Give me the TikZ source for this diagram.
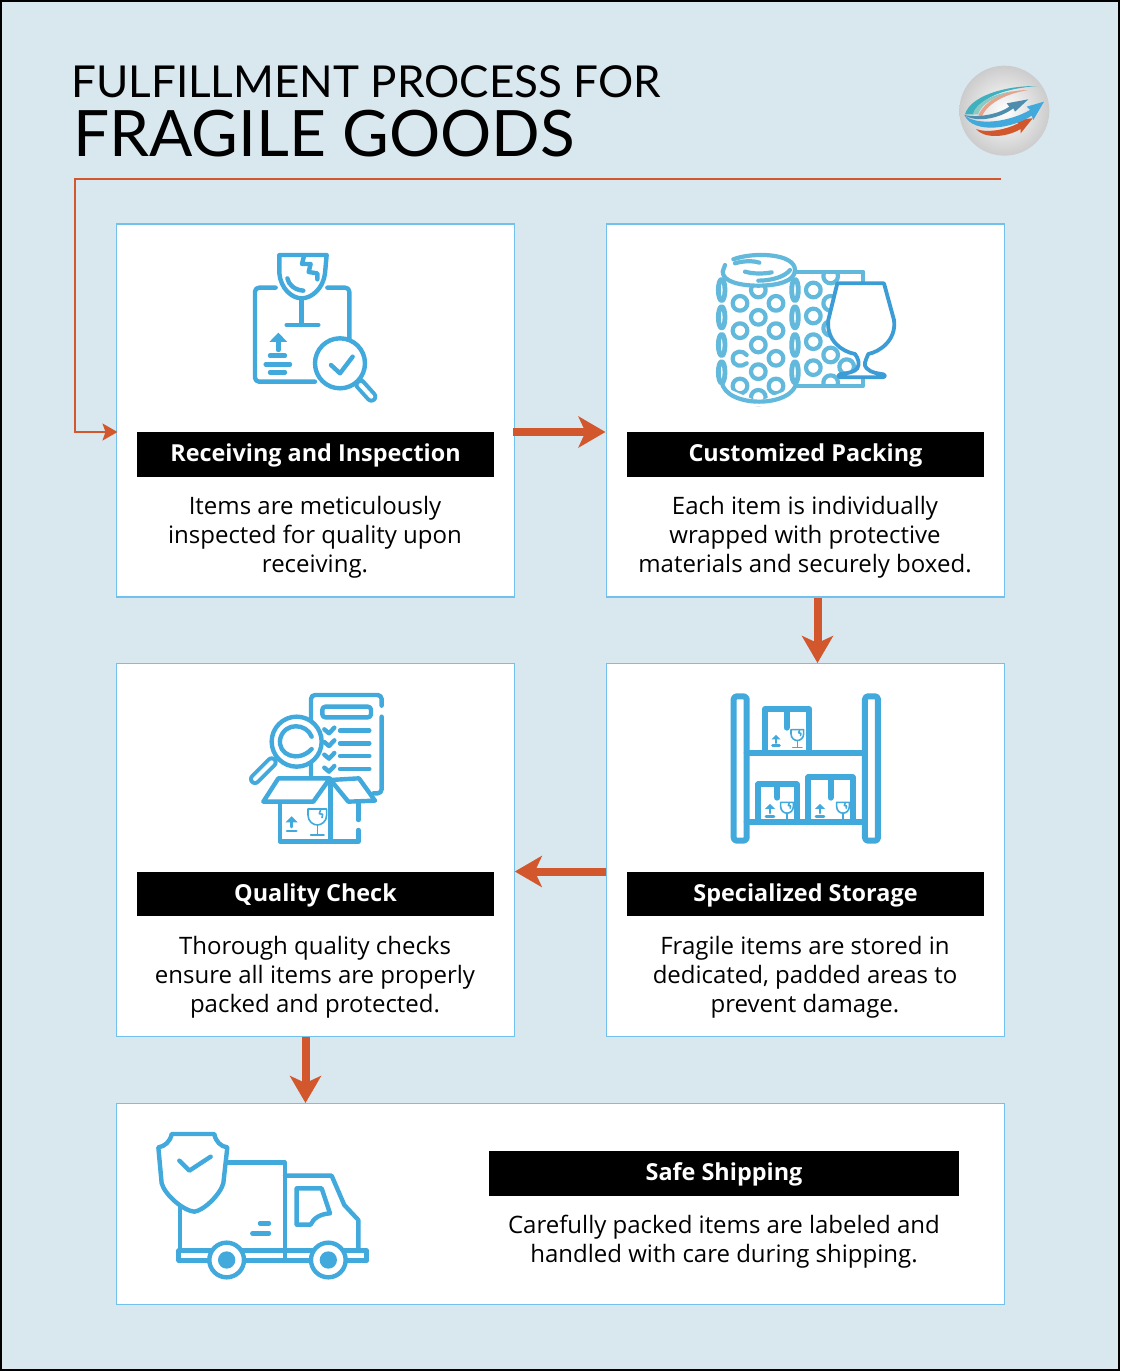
\documentclass[tikz,border=0pt]{standalone}
\usepackage{fontspec}
\setmainfont{Open Sans}
\newfontfamily\titlefont{Lato}
\usetikzlibrary{arrows.meta}
\definecolor{pagebg}{HTML}{D9E8EF}
\definecolor{cardline}{HTML}{72C1EC}
\definecolor{flowred}{HTML}{D2572C}
\definecolor{iconblue}{HTML}{41A9DC}
\definecolor{wrapblue}{HTML}{62B9DB}
\definecolor{glassblue}{HTML}{3C9CD6}
\definecolor{logoteal}{HTML}{3FB0BE}
\definecolor{logomint}{HTML}{8CCBC4}
\definecolor{logosteel}{HTML}{4D8DAE}
\tikzset{
  card/.style={draw=cardline, line width=1.3pt, fill=white, anchor=north west, minimum width=398pt, minimum height=373pt},
  headbar/.style={fill=black, text=white, anchor=north, minimum height=44.5pt, minimum width=357pt, inner sep=0pt, text height=19.5pt, text depth=4.5pt, font=\fontsize{23.4}{27}\selectfont\bfseries},
  bodytext/.style={align=center, inner sep=0pt, font=\fontsize{24}{29}\selectfont},
  flowarrow/.style={draw=flowred, line width=8pt, -{Stealth[length=27pt,width=31pt,inset=7pt]}},
  loopline/.style={draw=flowred, line width=1.8pt, -{Stealth[length=15pt,width=17pt,inset=3pt]}},
  iconline/.style={draw=iconblue, line width=4.4pt, line cap=round, line join=round},
  wrapline/.style={draw=wrapblue, line width=4.2pt, line cap=round, line join=round},
  markline/.style={draw=iconblue, line width=1.6pt, line cap=round, line join=round},
  iconat/.style 2 args={shift={(#1,#2)}, x=.3333pt, y=-.3333pt}
}
% little marks printed on the boxes
\newcommand{\glassmark}[3]{
  \begin{scope}[shift={(#1,#2)}, scale=#3]
    \draw[markline] (-28,0) -- (28,0) -- (28,18) .. controls (28,38) and (12,48) .. (0,48) .. controls (-12,48) and (-28,38) .. (-28,18) -- cycle;
    \draw[markline] (0,48) -- (0,78) (-20,78) -- (20,78);
    \draw[markline] (10,2) -- (6,14) -- (16,16) -- (14,26);
  \end{scope}}
\newcommand{\upmark}[3]{
  \begin{scope}[shift={(#1,#2)}, scale=#3]
    \fill[iconblue] (-18,0) -- (0,-18) -- (18,0) -- cycle;
    \draw[iconline, line width=2.8pt] (0,0) -- (0,14) (-14,26) -- (14,26);
  \end{scope}}
\begin{document}
\begin{tikzpicture}[x=1pt, y=-1pt]
  \useasboundingbox (0,0) rectangle (1120,1371);
  \draw[fill=pagebg, draw=black, line width=2pt] (1,1) rectangle (1119,1370);

  % title
  \node[anchor=base west, inner sep=0pt, font=\titlefont\fontsize{44}{50}\selectfont] (titletop) at (71,97) {FULFILLMENT PROCESS FOR};
  \node[anchor=base west, inner sep=0pt, font=\titlefont\fontsize{64}{70}\selectfont] (titlemain) at (73,156) {FRAGILE GOODS};

  % logo
  \begin{scope}[iconat={950}{55}]
    \shade[inner color=white, outer color=black!20] (163,167) circle (135);
    \fill[flowred!55] (85,180) .. controls (110,130) and (170,105) .. (235,105) .. controls (175,115) and (115,140) .. (95,185) -- cycle;
    \fill[logoteal] (45,178) .. controls (60,125) and (160,92) .. (262,93) .. controls (170,100) and (90,125) .. (72,178) -- cycle;
    \fill[logomint] (68,178) .. controls (80,140) and (130,118) .. (190,108) .. controls (135,125) and (95,145) .. (84,178) -- cycle;
    \fill[flowred] (78,222) .. controls (110,235) and (165,225) .. (205,205) -- (195,195) -- (248,190) -- (212,235) -- (212,222) .. controls (165,250) and (100,250) .. (78,222) -- cycle;
    \fill[iconblue] (43,180) .. controls (80,215) and (180,200) .. (240,165) -- (230,155) -- (282,140) -- (250,195) -- (245,182) .. controls (190,220) and (70,240) .. (43,180) -- cycle;
    \fill[logosteel] (43,180) .. controls (90,190) and (150,175) .. (178,155) -- (170,145) -- (235,133) -- (195,170) -- (190,160) .. controls (150,190) and (80,205) .. (43,180) -- cycle;
  \end{scope}

  % cards
  \node[card] (recv) at (115.5,223.4) {};
  \node[card] (pack) at (605.5,223.4) {};
  \node[card] (check) at (115.5,663) {};
  \node[card] (store) at (605.5,663) {};
  \node[card, minimum width=888pt, minimum height=201pt] (ship) at (115.5,1103) {};

  % headers
  \node[headbar] (recvhead) at (315.5,432) {Receiving and Inspection};
  \node[headbar] (packhead) at (805.5,432) {Customized Packing};
  \node[headbar] (checkhead) at (315.5,871.5) {Quality Check};
  \node[headbar] (storehead) at (805.5,871.5) {Specialized Storage};
  \node[headbar, minimum width=470pt] (shiphead) at (724,1151) {Safe Shipping};

  % texts
  \node[bodytext] (recvtext) at (315,537) {Items are meticulously\\inspected for quality upon\\receiving.};
  \node[bodytext] (packtext) at (805,537) {Each item is individually\\wrapped with protective\\materials and securely boxed.};
  \node[bodytext] (checktext) at (315,977) {Thorough quality checks\\ensure all items are properly\\packed and protected.};
  \node[bodytext] (storetext) at (805,977) {Fragile items are stored in\\dedicated, padded areas to\\prevent damage.};
  \node[bodytext] (shiptext) at (724,1242) {Carefully packed items are labeled and\\handled with care during shipping.};

  % connectors
  \coordinate (loopstart) at (1001,179);
  \coordinate (loopleft) at (75,179);
  \coordinate (packdrop) at (817.5,630);
  \coordinate (checkdrop) at (305.5,1070);
  \draw[loopline] (loopstart) -- (loopleft) |- ([xshift=2pt]recv.west |- recvhead.north);
  \draw[flowarrow] ([xshift=-2pt]recv.east |- recvhead.north) -- (pack.west |- recvhead.north);
  \draw[flowarrow] (packdrop |- pack.south) -- (packdrop |- store.north);
  \draw[flowarrow] (store.west |- storehead.north) -- (check.east |- storehead.north);
  \draw[flowarrow] (checkdrop |- check.south) -- (checkdrop |- ship.north);

  % receiving icon
  \begin{scope}[iconat={230}{240}]
    \draw[iconline, rounded corners=4pt] (137,143) -- (75,143) -- (75,425) -- (255,425);
    \draw[iconline, rounded corners=4pt] (292,143) -- (358,143) -- (358,300);
    \draw[iconline] (148,45) -- (290,45) -- (285,100) .. controls (280,145) and (245,175) .. (215,175) .. controls (185,175) and (152,145) .. (148,100) -- cycle;
    \draw[iconline] (215,175) -- (215,255) (170,255) -- (265,255);
    \draw[iconline] (222,48) -- (216,72) -- (242,72) -- (236,96) -- (262,100) -- (262,118);
    \draw[iconline] (172,115) .. controls (176,135) and (195,150) .. (220,152);
    \fill[iconblue] (118,306) -- (145,278) -- (172,306) -- cycle;
    \draw[iconline] (145,300) -- (145,330);
    \draw[iconline] (120,347) -- (165,347) (107,373) -- (180,373) (120,397) -- (165,397);
    \draw[iconline, line width=12pt] (390,432) -- (424,470);
    \draw[draw=white, line width=4pt, line cap=round] (392,435) -- (424,470);
    \draw[iconline, fill=white] (330,370) circle (75);
    \draw[iconline] (303,375) -- (330,400) -- (368,350);
  \end{scope}

  % packing icon
  \begin{scope}[iconat={700}{240}]
    \foreach \cx/\cy in {340/150, 340/228, 340/305, 340/383, 392/108, 392/190, 392/265, 392/345, 440/380, 392/428}
      \draw[wrapline] (\cx,\cy) circle (22);
    \fill[white] (285,40) rectangle (500,93);
    \fill[white] (285,439) rectangle (500,480);
    \draw[wrapline] (290,95) -- (490,95) -- (490,125) (290,437) -- (490,437) -- (490,415);
    \fill[white] (65,100) rectangle (288,440);
    \foreach \cx/\cy in {120/190, 228/190, 175/232, 120/272, 228/272, 175/315, 228/355, 175/395, 120/438, 228/438, 175/150, 175/472}
      \draw[wrapline] (\cx,\cy) circle (22);
    \draw[wrapline] (140,345) .. controls (130,330) and (100,330) .. (98,355) .. controls (98,380) and (125,382) .. (140,370);
    \foreach \cx in {65,285}
      \foreach \cy in {150,232,315,397}
        \draw[wrapline, line width=4.8pt] (\cx,\cy) ellipse (10 and 32);
    \fill[white] (175,485) -- (70,440) -- (60,500) -- (290,500) -- (290,440) -- cycle;
    \draw[wrapline] (65,425) .. controls (75,505) and (280,505) .. (290,425);
    \fill[white] (70,90) .. controls (70,30) and (285,30) .. (285,90) .. controls (285,150) and (70,150) .. (70,90) -- cycle;
    \draw[wrapline] (100,58) .. controls (160,35) and (285,40) .. (285,90) .. controls (285,125) and (230,137) .. (175,137) .. controls (120,137) and (68,125) .. (68,95) -- (75,75);
    \draw[wrapline] (105,70) .. controls (130,62) and (160,62) .. (178,68);
    \draw[wrapline] (135,95) .. controls (160,102) and (190,102) .. (215,97);
    \draw[wrapline] (175,122) .. controls (215,122) and (255,110) .. (270,90);
    \draw[draw=glassblue, line width=3.8pt, line join=round, fill=white] (412,130) -- (552,130) -- (582,240) .. controls (590,300) and (540,335) .. (505,342) .. controls (495,365) and (490,375) .. (500,385) .. controls (515,400) and (535,400) .. (550,403) .. controls (558,408) and (555,412) .. (548,412) -- (425,412) .. controls (415,412) and (412,406) .. (422,402) .. controls (445,400) and (465,395) .. (472,385) .. controls (480,372) and (475,355) .. (465,342) .. controls (425,335) and (378,300) .. (385,240) -- cycle;
  \end{scope}

  % quality icon
  \begin{scope}[iconat={235}{685}]
    \draw[iconline, rounded corners=4pt] (228,270) -- (228,30) -- (440,30) -- (440,62);
    \draw[iconline, rounded corners=4pt] (440,95) -- (440,325) -- (415,325);
    \draw[iconline, rounded corners=3pt] (262,65) rectangle (408,97);
    \foreach \ty in {137,175,213,252} {
      \draw[iconline] (268,\ty-4) -- (282,\ty+8) -- (298,\ty-9);
      \draw[iconline] (315,\ty) -- (403,\ty);
    }
    \draw[iconline, line width=12pt] (110,232) -- (60,282);
    \draw[draw=white, line width=4pt, line cap=round] (110,232) -- (60,282);
    \draw[iconline, fill=white] (185,170) circle (75);
    \draw[iconline] (230,155) .. controls (215,115) and (150,110) .. (136,160) .. controls (125,210) and (190,235) .. (230,192);
    \draw[iconline, fill=white] (130,280) -- (285,280) -- (235,350) -- (85,350) -- cycle;
    \draw[iconline, fill=white] (287,285) -- (372,280) -- (420,347) -- (340,350) -- cycle;
    \draw[iconline] (135,352) -- (135,470) -- (370,470) -- (370,435) (370,405) -- (370,352) (287,285) -- (287,470);
    \upmark{170}{412}{1}
    \glassmark{247}{372}{1}
  \end{scope}

  % storage icon
  \begin{scope}[iconat={720}{685}]
    \draw[iconline, line width=6pt, rounded corners=3pt] (41,34) rectangle (80,467);
    \draw[iconline, line width=6pt, rounded corners=3pt] (435,34) rectangle (474,467);
    \draw[iconline, line width=6pt] (80,203) -- (435,203) (80,410) -- (435,410);
    \draw[iconline, line width=6pt] (135,200) -- (135,72) -- (268,72) -- (268,200) (200,72) -- (200,128);
    \draw[iconline, line width=6pt] (115,405) -- (115,298) -- (230,298) -- (230,405) (172,298) -- (172,338);
    \draw[iconline, line width=6pt] (265,405) -- (265,277) -- (398,277) -- (398,405) (332,277) -- (332,338);
    \upmark{168}{163}{.75}
    \glassmark{232}{134}{.68}
    \upmark{150}{372}{.85}
    \glassmark{201}{352}{.68}
    \upmark{300}{372}{.85}
    \glassmark{369}{352}{.68}
  \end{scope}

  % shipping icon
  \begin{scope}[iconat={145}{1120}]
    \draw[iconline] (245,128) -- (420,128) -- (420,390);
    \draw[iconline] (105,262) -- (105,390);
    \draw[iconline] (420,167) -- (560,167) -- (598,255) -- (640,300) -- (640,390);
    \draw[iconline] (455,205) -- (530,205) -- (555,280) .. controls (525,282) and (505,295) .. (497,314) -- (455,314) -- cycle;
    \draw[iconline] (345,310) -- (372,310) (322,340) -- (372,340);
    \draw[iconline, line width=5pt] (102,392) -- (665,392) -- (665,422) -- (102,422) -- cycle;
    \draw[iconline] (420,390) -- (420,422);
    \foreach \wx in {245,550} {
      \draw[iconline, fill=white] (\wx,420) circle (52);
      \fill[iconblue] (\wx,420) circle (26);
    }
    \draw[iconline, fill=white] (80,42) -- (208,42) .. controls (212,65) and (228,80) .. (247,82) -- (235,190) .. controls (225,225) and (175,272) .. (148,275) .. controls (115,272) and (60,225) .. (50,190) -- (40,82) .. controls (58,80) and (76,65) .. (80,42) -- cycle;
    \draw[iconline] (103,122) -- (133,152) -- (197,110);
  \end{scope}
\end{tikzpicture}
\end{document}
